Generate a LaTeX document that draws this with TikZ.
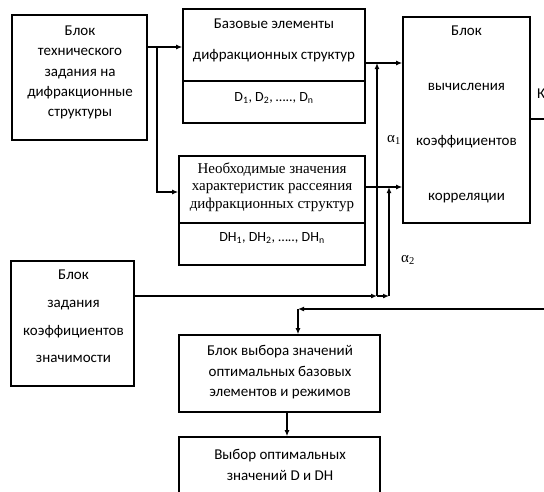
\documentclass[tikz,border=0pt]{standalone}
\usepackage{fontspec}
\setmainfont{Carlito}
\newfontfamily\serifC{Liberation Serif}
\usetikzlibrary{arrows.meta}
\begin{document}
\begin{tikzpicture}[x=1pt,y=-1pt,
 box/.style={draw, line width=1.6pt, inner sep=0pt},
 txt/.style={align=center, inner sep=0pt},
 arr/.style={line width=1.5pt, -{Latex[length=6pt,width=5pt]}},
 ln/.style={line width=1.5pt}]
\useasboundingbox (0,0) rectangle (544,491);

% boxes
\node[box, minimum width=135pt, minimum height=125pt] (A) at (79.5,77.5) {};
\node[box, minimum width=182pt, minimum height=72pt] (Btop) at (274,45) {};
\node[box, minimum width=182pt, minimum height=42pt] (Bbot) at (274,102) {};
\node[box, minimum width=186pt, minimum height=67pt] (Ctop) at (272,189.5) {};
\node[box, minimum width=186pt, minimum height=42pt] (Cbot) at (272,244) {};
\node[box, minimum width=127pt, minimum height=206pt] (D) at (466.5,120) {};
\node[box, minimum width=123pt, minimum height=125pt] (F) at (72.5,323.5) {};
\node[box, minimum width=201pt, minimum height=77pt] (E) at (279.5,373.5) {};
\node[box, minimum width=201pt, minimum height=83pt] (G) at (279.5,478.5) {};

% texts
\node[txt, font=\fontsize{15}{20.3}\selectfont] (At) at (80,72.5)
 {Блок\\технического\\задания на\\дифракционные\\структуры};
\node[txt, font=\fontsize{15}{31}\selectfont] (Btt) at (274,40.5)
 {Базовые элементы\\дифракционных структур};
\node[txt, font=\fontsize{14}{17}\selectfont] (Bbt) at (274,98)
 {D\textsubscript{1}, D\textsubscript{2}, ….., D\textsubscript{n}};
\node[txt, font=\serifC\fontsize{15}{17.5}\selectfont] (Ctt) at (272,187)
 {Необходимые значения\\характеристик рассеяния\\дифракционных структур};
\node[txt, font=\fontsize{14}{17}\selectfont] (Cbt) at (272,238)
 {DH\textsubscript{1}, DH\textsubscript{2}, ….., DH\textsubscript{n}};
\node[txt, font=\fontsize{15}{55}\selectfont] (Dt) at (466.5,114.5)
 {Блок\\вычисления\\коэффициентов\\корреляции};
\node[txt, font=\fontsize{15}{27.7}\selectfont] (Ft) at (73.5,316.5)
 {Блок\\задания\\коэффициентов\\значимости};
\node[txt, font=\fontsize{15}{20.5}\selectfont] (Et) at (280,372.5)
 {Блок выбора значений\\оптимальных базовых\\элементов и режимов};
\node[txt, font=\fontsize{15}{21}\selectfont] (Gt) at (280,464.5)
 {Выбор оптимальных\\значений D и DH};
\node[txt, anchor=west, font=\fontsize{15}{17}\selectfont] (Kt) at (537,94) {К};
\node[txt, font=\serifC\fontsize{15}{17}\selectfont] (a1) at (394,140) {α\textsubscript{1}};
\node[txt, font=\serifC\fontsize{15}{17}\selectfont] (a2) at (408,260) {α\textsubscript{2}};

% connectors
\coordinate (J1) at (157,47);
\coordinate (J2) at (157,192);
\coordinate (K1) at (377,63);
\coordinate (K2) at (389,187);
\coordinate (M1) at (377,296);
\coordinate (M2) at (389,296);
\coordinate (R1) at (548,119);
\coordinate (R2) at (548,309);
\coordinate (P) at (298,309);
\coordinate (Q) at (287,420);

\draw[arr] (A.east|-J1) -- (Btop.west|-J1);
\draw[arr] (J1) -- (J2) -- (Ctop.west|-J2);
\draw[arr] (Btop.east|-K1) -- (D.west|-K1);
\draw[arr] (Ctop.east|-K2) -- (D.west|-K2);
\draw[arr] (F.east|-M1) -- (M1);
\draw[arr] (M1) -- (M2);
\draw[arr] (M1) -- (K1);
\draw[arr] (M2) -- (K2);
\draw[ln] (D.east|-R1) -- (R1);
\draw[arr] (R2) -- (P);
\draw[arr] (P) -- (P|-E.north);
\draw[arr] (E.south-|Q) -- (G.north-|Q);
\end{tikzpicture}
\end{document}
